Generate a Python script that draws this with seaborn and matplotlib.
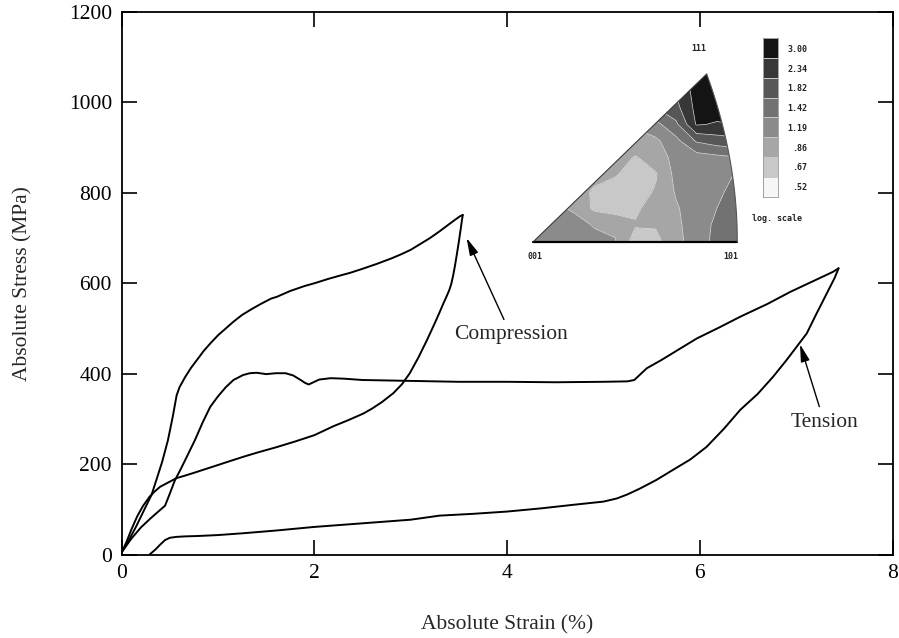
import numpy as np
import pandas as pd
import matplotlib
matplotlib.use("Agg")
import matplotlib.pyplot as plt
import seaborn as sns
from matplotlib.colors import ListedColormap
from matplotlib.patches import PathPatch
from matplotlib.path import Path

# ---------------- data ----------------
comp_load_strain = [0.00, 0.05, 0.10, 0.15, 0.20, 0.25, 0.31, 0.36, 0.42, 0.48, 0.53, 0.57, 0.60, 0.66,
                    0.72, 0.78, 0.85, 0.92, 1.00, 1.08, 1.16, 1.25, 1.35, 1.45, 1.55, 1.61, 1.75, 1.90,
                    2.00, 2.15, 2.30, 2.37, 2.50, 2.65, 2.80, 2.90, 3.00, 3.10, 3.20, 3.30, 3.40, 3.47,
                    3.51, 3.54]
comp_load_stress = [5, 22, 42, 62, 84, 106, 132, 165, 205, 253, 305, 352, 370, 393,
                    413, 430, 450, 467, 485, 500, 515, 530, 543, 555, 566, 570, 583, 594,
                    600, 610, 619, 623, 632, 643, 655, 664, 674, 687, 700, 715, 731, 742,
                    748, 751]

comp_unload_strain = [3.54, 3.53, 3.52, 3.51, 3.50, 3.48, 3.46, 3.44, 3.42, 3.40, 3.37, 3.34, 3.30, 3.25,
                      3.17, 3.08, 2.99, 2.91, 2.82, 2.70, 2.60, 2.51, 2.35, 2.20, 2.00, 1.80, 1.60, 1.40,
                      1.26, 1.10, 1.00, 0.87, 0.74, 0.65, 0.57, 0.48, 0.40, 0.34, 0.29, 0.22, 0.16, 0.10,
                      0.05, 0.00]
comp_unload_stress = [751, 738, 722, 708, 693, 666, 640, 617, 598, 585, 570, 556, 536, 512,
                      475, 436, 401, 377, 357, 337, 323, 312, 297, 284, 264, 250, 237, 225,
                      216, 205, 198, 189, 180, 174, 169, 159, 150, 139, 128, 107, 84, 55,
                      28, 5]

tens_load_strain = [0.00, 0.10, 0.20, 0.30, 0.38, 0.45, 0.50, 0.55, 0.62, 0.68, 0.76, 0.84, 0.92, 1.00,
                    1.08, 1.16, 1.26, 1.33, 1.40, 1.50, 1.60, 1.70, 1.78, 1.85, 1.90, 1.94, 1.98, 2.05,
                    2.17, 2.30, 2.50, 2.75, 3.00, 3.50, 4.00, 4.50, 5.00, 5.25, 5.32, 5.40, 5.45, 5.60,
                    5.80, 5.97, 6.20, 6.42, 6.70, 6.94, 7.20, 7.38, 7.44]
tens_load_stress = [5, 35, 60, 80, 95, 108, 135, 163, 192, 218, 253, 292, 327, 350,
                    370, 386, 397, 401, 402, 399, 401, 401, 396, 387, 380, 376, 380, 387,
                    390, 389, 386, 385, 384, 382, 382, 381, 382, 383, 386, 402, 412, 430,
                    456, 478, 502, 526, 554, 581, 607, 625, 633]

tens_unload_strain = [7.44, 7.40, 7.30, 7.20, 7.11, 7.00, 6.90, 6.76, 6.60, 6.42, 6.25, 6.07, 5.90, 5.72,
                      5.55, 5.38, 5.25, 5.14, 5.00, 4.69, 4.35, 4.00, 3.65, 3.30, 3.00, 2.50, 2.00, 1.60,
                      1.26, 1.00, 0.80, 0.65, 0.57, 0.50, 0.45, 0.40, 0.35, 0.29]
tens_unload_stress = [633, 612, 570, 528, 489, 458, 430, 393, 355, 320, 278, 238, 210, 187,
                      165, 146, 133, 124, 117, 110, 102, 95, 90, 86, 77, 69, 61, 53,
                      47, 43, 41, 40, 39, 37, 32, 22, 11, 0]

x_ticks = [0, 2, 4, 6, 8]
y_ticks = [0, 200, 400, 600, 800, 1000, 1200]

# inverse pole figure (values = colour-band index), rows fy=0..1, cols fx=0..1
ipf_grid = [
    [3.2, 3.2, 3.1, 2.9, 2.6, 1.0, 1.2, 2.2, 3.0, 3.8, 4.0],
    [3.0, 3.0, 3.0, 2.4, 2.2, 1.6, 1.6, 2.3, 3.0, 3.7, 4.2],
    [3.0, 2.8, 2.3, 1.3, 1.1, 1.3, 2.0, 2.4, 3.0, 3.5, 4.2],
    [3.0, 3.0, 2.5, 1.2, 1.0, 1.0, 1.6, 2.6, 3.0, 3.2, 4.0],
    [3.0, 3.0, 2.5, 2.2, 1.6, 1.0, 1.4, 2.8, 3.0, 3.1, 3.6],
    [3.0, 3.0, 2.5, 2.2, 2.1, 1.4, 2.0, 2.8, 3.0, 3.2, 3.4],
    [3.0, 3.0, 2.5, 2.3, 2.2, 2.2, 2.3, 3.2, 4.6, 5.0, 5.2],
    [3.0, 3.0, 2.5, 2.5, 2.5, 2.6, 3.2, 4.3, 6.6, 6.4, 6.5],
    [3.0, 3.0, 3.0, 3.0, 3.0, 3.5, 4.5, 5.2, 6.8, 7.0, 7.0],
    [4.0, 4.0, 4.0, 4.0, 4.0, 4.5, 5.5, 5.6, 6.9, 7.5, 7.5],
    [5.0, 5.0, 5.0, 5.0, 5.0, 5.5, 6.5, 7.0, 7.5, 7.5, 7.5],
]
ipf_colors = ["#f6f6f6", "#c8c8c8", "#a6a6a6", "#8b8b8b", "#727272", "#575757", "#373737", "#141414"]
ipf_labels = [".52", ".67", ".86", "1.19", "1.42", "1.82", "2.34", "3.00"]
ipf_apex_x = 0.85

# ---------------- style ----------------
sns.set_style("ticks")
plt.rcParams["font.family"] = ["Liberation Serif", "DejaVu Serif"]
FS = 15.5

W, H = 899, 638
fig = plt.figure(figsize=(W / 100, H / 100), dpi=100)
ax = fig.add_axes([121.7 / W, 1 - 554.5 / H, (892.5 - 121.7) / W, (554.5 - 12) / H])

frames = []
for name, xs, ys in [("comp_load", comp_load_strain, comp_load_stress),
                     ("comp_unload", comp_unload_strain, comp_unload_stress),
                     ("tens_load", tens_load_strain, tens_load_stress),
                     ("tens_unload", tens_unload_strain, tens_unload_stress)]:
    frames.append(pd.DataFrame({"strain": xs, "stress": ys, "segment": name}))
df = pd.concat(frames, ignore_index=True)

sns.lineplot(data=df, x="strain", y="stress", units="segment", estimator=None, sort=False,
             color="black", lw=1.4, ax=ax, legend=False)

ax.set_xlim(0, 8)
ax.set_ylim(0, 1200)
ax.set_xticks(x_ticks)
ax.set_yticks(y_ticks)
ax.tick_params(direction="in", length=10.5, width=1.2, top=True, right=True,
               labelsize=FS, pad=7, colors="black")
for s in ax.spines.values():
    s.set_linewidth(1.3)
    s.set_color("black")
ax.set_xlabel("Absolute Strain (%)", fontsize=FS)
ax.set_ylabel("Absolute Stress (MPa)", fontsize=FS)
ax.xaxis.set_label_coords(0.5, -0.13)
ax.xaxis.label.set_va("center")
ax.yaxis.set_label_coords(-0.128, 0.5)
ax.yaxis.label.set_va("center")

arrow = dict(arrowstyle="-|>,head_length=0.7,head_width=0.18", color="black", lw=1.0,
             shrinkA=2, shrinkB=0, mutation_scale=15)
ax.annotate("Compression", xy=(3.58, 700), xytext=(4.04, 486), ha="center", va="center",
            fontsize=FS, arrowprops=arrow)
ax.annotate("Tension", xy=(7.04, 465), xytext=(7.29, 293), ha="center", va="center",
            fontsize=FS, arrowprops=arrow)

# ---------------- inset: inverse pole figure ----------------
ax_in = fig.add_axes([533.3 / W, 1 - 241.7 / H, 204 / W, 167.7 / H])
ax_in.set_xlim(0, 1)
ax_in.set_ylim(0, 1)
ax_in.axis("off")
gx = np.linspace(0, 1, len(ipf_grid[0]))
gy = np.linspace(0, 1, len(ipf_grid))
Z = np.array(ipf_grid)
levels = np.arange(-0.5, len(ipf_colors), 1.0)
cs = ax_in.contourf(gx, gy, Z, levels=levels, colors=ipf_colors)
cl = ax_in.contour(gx, gy, Z, levels=levels[1:-1], colors="#e2e2e2", linewidths=0.5)

t = np.linspace(0, 1, 80)
edge_x = 1 - (1 - ipf_apex_x) * t ** 2
verts = [(0, 0)] + list(zip(edge_x, t)) + [(0, 0)]
clip = PathPatch(Path(verts), transform=ax_in.transData, facecolor="none", edgecolor="none")
ax_in.add_patch(clip)
cs.set_clip_path(clip)
cl.set_clip_path(clip)
ax_in.plot([0, 1], [0, 0], color="black", lw=1.6, clip_on=False)
ax_in.plot([0, ipf_apex_x], [0, 1], color="#3a3a3a", lw=0.8, clip_on=False)
ax_in.plot(edge_x, t, color="#555555", lw=0.8, clip_on=False)

mono = dict(family="DejaVu Sans Mono", fontsize=6, fontweight="bold", color="#222222",
            ha="center", va="center")
fig.text(698.3 / W, 1 - 48.3 / H, "111", **mono)
fig.text(535 / W, 1 - 256.7 / H, "001", **mono)
fig.text(730.8 / W, 1 - 256.7 / H, "101", **mono)
fig.text(776.7 / W, 1 - 218.3 / H, "log. scale", **mono)

ax_cb = fig.add_axes([763.3 / W, 1 - 196.7 / H, 15 / W, 158.4 / H])
ax_cb.pcolormesh([0, 1], np.arange(len(ipf_colors) + 1),
                 np.arange(len(ipf_colors)).reshape(-1, 1),
                 cmap=ListedColormap(ipf_colors), vmin=-0.5, vmax=len(ipf_colors) - 0.5,
                 edgecolors="#c8c8c8", linewidth=0.4)
ax_cb.set_xlim(0, 1)
ax_cb.set_ylim(0, len(ipf_colors))
ax_cb.set_xticks([])
ax_cb.yaxis.tick_right()
ax_cb.set_yticks(np.arange(len(ipf_colors)) + 0.5)
ax_cb.set_yticklabels(ipf_labels, family="DejaVu Sans Mono", fontsize=6, fontweight="bold",
                      color="#222222", ha="right")
ax_cb.tick_params(axis="y", length=0, pad=21)
for s in ax_cb.spines.values():
    s.set_linewidth(0.6)
    s.set_color("#999999")

fig.savefig("out.png", dpi=100)
